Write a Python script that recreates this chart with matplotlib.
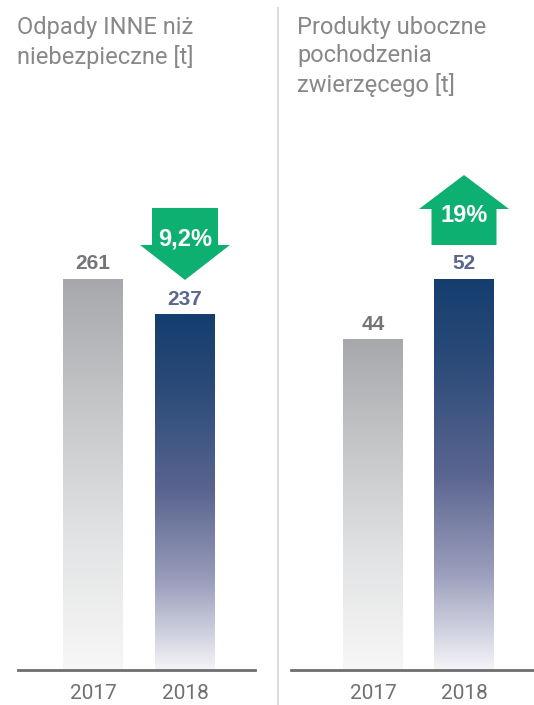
import numpy as np
import matplotlib
matplotlib.use("Agg")
import matplotlib.pyplot as plt
from matplotlib.colors import LinearSegmentedColormap
from matplotlib.patches import Polygon
from matplotlib.transforms import Affine2D
from matplotlib.lines import Line2D

plt.rcParams["font.family"] = ["Roboto", "DejaVu Sans"]

# data
years = ["2017", "2018"]
titles = ["Odpady INNE niż\nniebezpieczne [t]",
          "Produkty uboczne\npochodzenia\nzwierzęcego [t]"]
values_waste = [261, 237]
values_animal = [44, 52]
changes = ["9,2%", "19%"]
directions = ["down", "up"]

W, H = 534, 705
fig = plt.figure(figsize=(W / 100, H / 100), dpi=100)

gray_cmap = LinearSegmentedColormap.from_list("g", ["#a7a8ab", "#c6c7c9", "#e2e3e4", "#f7f7f7"])
navy_cmap = LinearSegmentedColormap.from_list(
    "n", [(0, "#143e6e"), (0.2, "#2a4a78"), (0.5, "#5a6590"), (0.75, "#9a9dbb"), (1, "#f4f4f8")])
cmaps = [gray_cmap, navy_cmap]
label_colors = ["#747579", "#5b668f"]
green = "#0db070"

BASE = 670      # baseline pixel row
TOP_PX = 391    # pixel height of the tallest bar


def px_axes(left, right, top, bottom):
    return fig.add_axes([left / W, (H - bottom) / H, (right - left) / W, (bottom - top) / H])


def panel(left, right, c0, c1, values, title, title_x, change, direction):
    ax = px_axes(left, right, 120, BASE)
    ax_h = BASE - 120
    ymax = max(values) * ax_h / TOP_PX
    sp = c1 - c0
    ax.axis("off")
    bw = 60 / sp
    grad = np.linspace(0, 1, 256).reshape(-1, 1)
    for i, v in enumerate(values):
        ax.imshow(grad, cmap=cmaps[i], aspect="auto",
                  extent=(i - bw / 2, i + bw / 2, 0, v), origin="upper", zorder=2)
        ax.annotate(str(v), (i, v), xytext=(0, 4), textcoords="offset points",
                    ha="center", va="bottom", fontsize=15, fontweight="bold",
                    color=label_colors[i], family=["Liberation Sans", "DejaVu Sans"])
        ax.annotate(years[i], (i, 0), xytext=(0, -10), textcoords="offset points",
                    ha="center", va="top", fontsize=15, color="#707070")
    ax.set_xlim((left - c0) / sp, (right - c0) / sp)
    ax.set_ylim(0, ymax)
    fig.add_artist(Line2D([left / W, right / W], [(H - BASE) / H] * 2,
                          color="#6e6e6e", lw=2))
    fig.text(title_x / W, 1 - 16 / H, title, ha="left", va="top",
             fontsize=17, color="#888888", linespacing=1.3)

    # arrow anchored at the top of the 2018 bar
    fig.canvas.draw()
    axp, ayp = ax.transData.transform((1, values[1]))
    if direction == "down":
        verts = [(-33, 107), (33, 107), (33, 70), (45, 70), (0, 35), (-45, 70), (-33, 70)]
        ty = 76
    else:
        verts = [(-32.5, 34), (32.5, 34), (32.5, 70), (45, 70), (0, 104), (-45, 70), (-32.5, 70)]
        ty = 63
    poly = Polygon(verts, closed=True, facecolor=green, edgecolor="none",
                   transform=Affine2D().translate(axp, ayp), clip_on=False)
    fig.add_artist(poly)
    fig.text(axp / W, (ayp + ty) / H, change, ha="center", va="center",
             fontsize=17, fontweight="bold", color="white",
             family=["Liberation Sans", "DejaVu Sans"])


panel(18, 255, 93, 185, values_waste, titles[0], 17, changes[0], directions[0])
panel(291, 534, 373, 464, values_animal, titles[1], 297, changes[1], directions[1])

fig.add_artist(Line2D([278 / W] * 2, [0, 1 - 8 / H], color="#dcdcdc", lw=1.5))

fig.savefig("out.png", dpi=100)
